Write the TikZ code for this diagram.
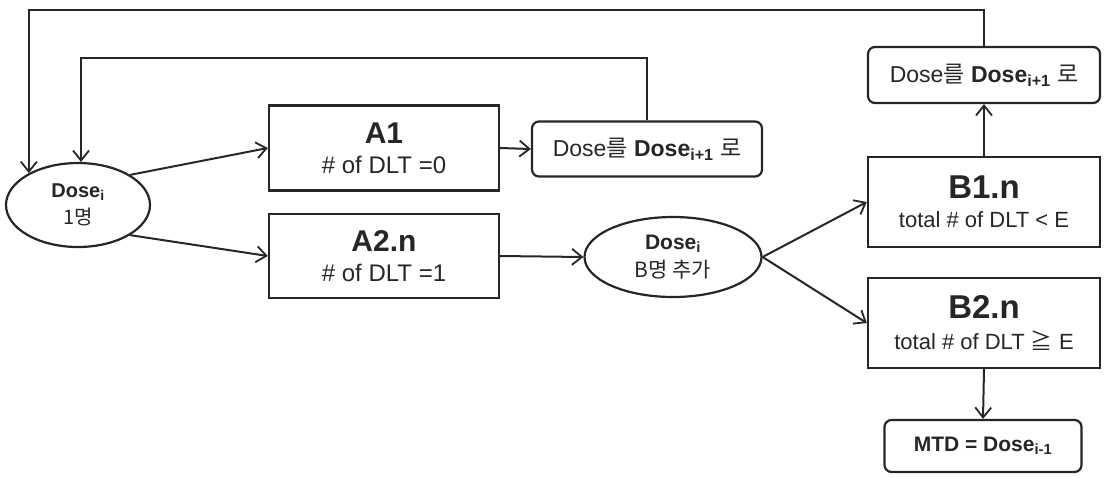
\documentclass[tikz,border=0pt]{standalone}
\usepackage{fontspec}
\setmainfont{Liberation Sans}
\newfontfamily\kr{Noto Sans CJK KR}
\usepackage{tikz}
\usetikzlibrary{shapes.geometric,arrows.meta}
\definecolor{ink}{gray}{0.15}

\begin{document}
\begin{tikzpicture}[x=1pt, y=-1pt, draw=ink, text=ink]
    \tikzstyle{box}=[ %
      draw, rectangle,
      line width=2.4pt,
      minimum width=230, minimum height=86,
      align=center, inner sep=0
    ]
    \tikzstyle{note}=[ %
      draw, rectangle, rounded corners=7,
      line width=2.2pt,
      align=center, inner sep=0
    ]
    \tikzstyle{dose}=[ %
      draw, ellipse,
      line width=2.2pt,
      align=center, inner sep=0
    ]
    \tikzstyle{arr}=[line width=2pt, -{Straight Barb[length=10pt,width=16pt,line width=1.8pt]}]
  %  \draw[help lines] (0,0) grid[step=50] (1105,477);
    \useasboundingbox (0,0) rectangle (1105,477);
    \path (78,205)  node(dose1) [dose, minimum width=144, minimum height=84]
                {\fontsize{20}{23}\selectfont\textbf{Dose\textsubscript{i}}\\[6pt]
                 \fontsize{20}{23}\selectfont{\kr 1명}}
          (384,148) node(a1) [box, minimum height=85]
                {\fontsize{30}{34}\selectfont\textbf{A1}\\[12pt]
                 \fontsize{24}{26}\selectfont\# of DLT =0}
          (384,256) node(a2) [box, minimum height=84]
                {\fontsize{30}{34}\selectfont\textbf{A2.n}\\[12pt]
                 \fontsize{24}{26}\selectfont\# of DLT =1}
          (647,149) node(up1) [note, minimum width=230, minimum height=55]
                {\fontsize{23}{26}\selectfont Dose{\kr 를} \textbf{Dose\textsubscript{i+1}} {\kr 로}}
          (673,257) node(dose2) [dose, minimum width=177, minimum height=80]
                {\fontsize{21}{24}\selectfont\textbf{Dose\textsubscript{i}}\\[6pt]
                 \fontsize{21}{24}\selectfont{\kr B명 추가}}
          (984,75)  node(up2) [note, minimum width=232, minimum height=56]
                {\fontsize{23}{26}\selectfont Dose{\kr 를} \textbf{Dose\textsubscript{i+1}} {\kr 로}}
          (984,202) node(b1) [box, minimum width=232, minimum height=90]
                {\fontsize{33}{38}\selectfont\textbf{B1.n}\\[12pt]
                 \fontsize{22}{25}\selectfont total \# of DLT < E}
          (984,323) node(b2) [box, minimum width=232, minimum height=90]
                {\fontsize{33}{38}\selectfont\textbf{B2.n}\\[12pt]
                 \fontsize{22}{25}\selectfont total \# of DLT {\kr ≧} E}
          (983,446) node(mtd) [note, minimum width=197, minimum height=52]
                {\fontsize{21}{24}\selectfont\textbf{MTD = Dose\textsubscript{i-1}}};
    \coordinate (top1) at (dose1.147 |- 0,10);
    \coordinate (top2) at (dose1.86 |- 0,58);
    \draw[arr] (dose1.30) -- (a1.west);
    \draw[arr] (dose1.-30) -- (a2.west);
    \draw[arr] (a1.east) -- (up1.west);
    \draw[arr] (a2.east) -- (dose2.west);
    \draw[arr] (dose2.east) -- (b1.west);
    \draw[arr] (dose2.east) -- (b2.west);
    \draw[arr] (b1.north) -- (up2.south);
    \draw[arr] (b2.south) -- (mtd.north);
    \draw[arr] (up1.north) |- (top2) -- (dose1.86);
    \draw[arr] (up2.north) |- (top1) -- (dose1.147);
  \end{tikzpicture}
\end{document}
